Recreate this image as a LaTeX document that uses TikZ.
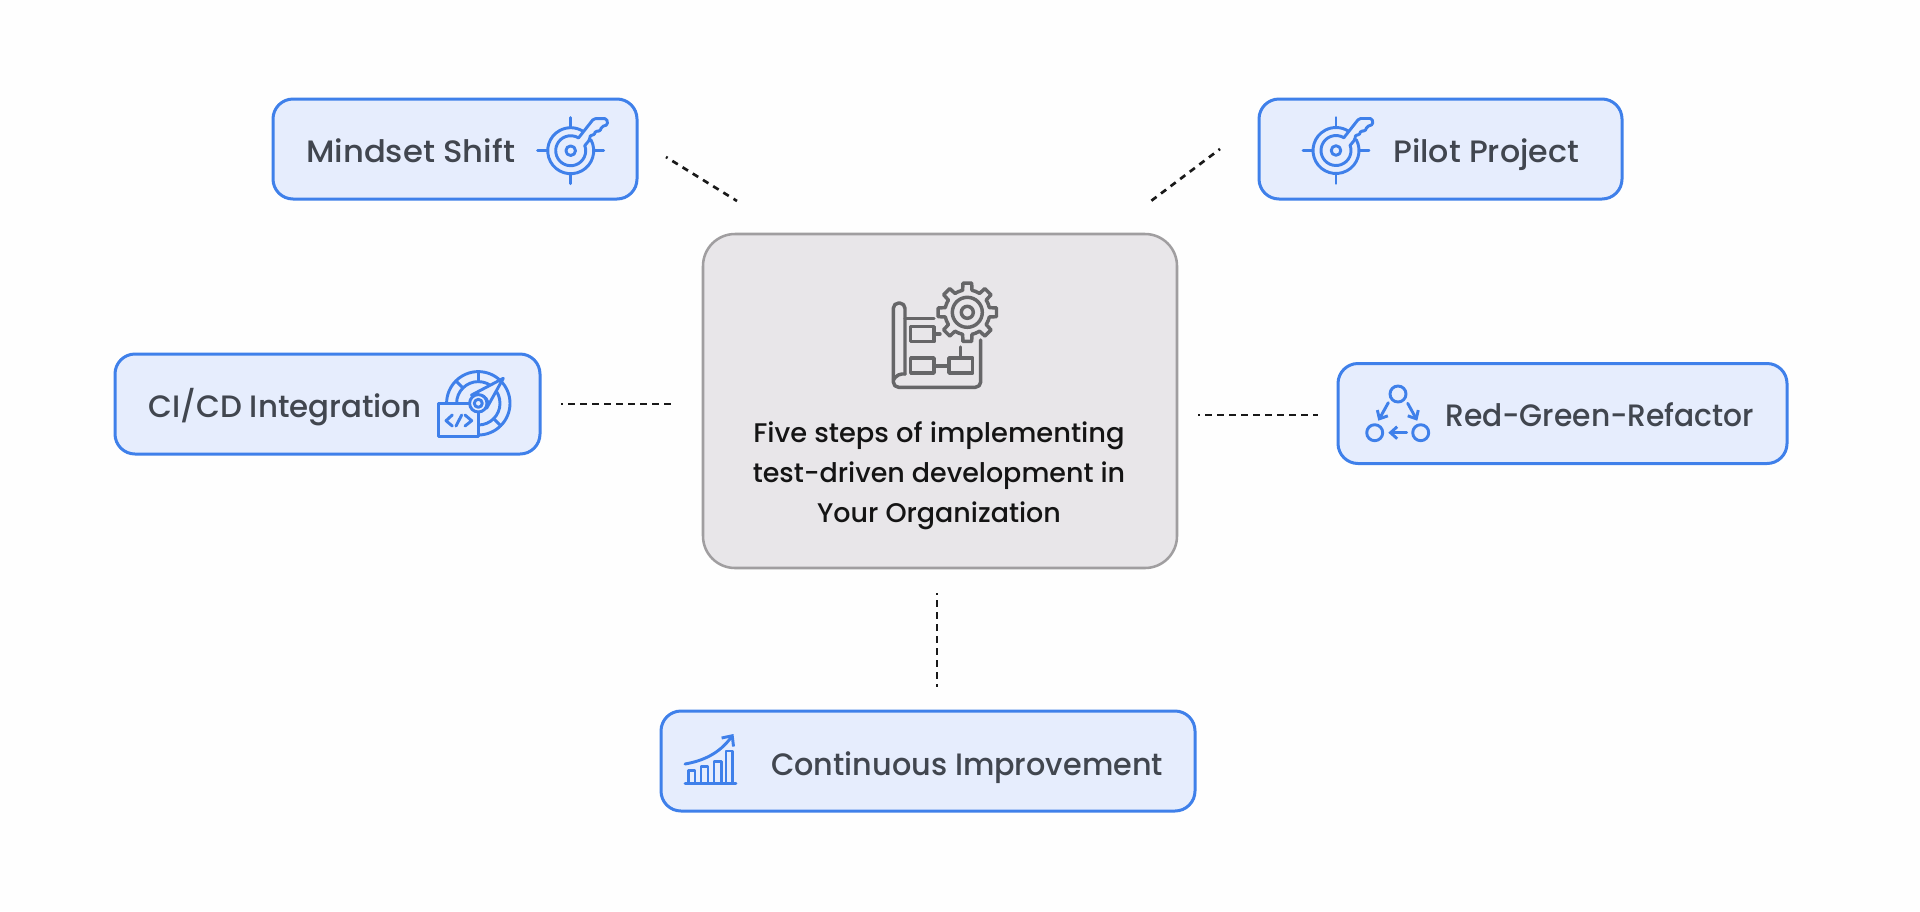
\documentclass[tikz,border=0pt]{standalone}
\usepackage{graphicx}
\usepackage{fontspec}
\setmainfont{Poppins}
\newfontfamily\medfont{Poppins Medium}
\usetikzlibrary{arrows.meta}
\definecolor{boxfill}{HTML}{E6EDFD}
\definecolor{boxline}{HTML}{3F80EA}
\definecolor{midfill}{HTML}{E8E6E9}
\definecolor{midline}{HTML}{A09EA0}
\definecolor{labelcol}{HTML}{41464F}
\definecolor{gearcol}{HTML}{666668}
\tikzset{
  stepbox/.style={draw=boxline,fill=boxfill,line width=2.25pt,rounded corners=15pt,inner sep=0pt,outer sep=0pt},
  midbox/.style={draw=midline,fill=midfill,line width=1.9pt,rounded corners=24pt,inner sep=0pt,outer sep=0pt},
  steplabel/.style={anchor=base west,inner sep=0pt,text=labelcol,font=\medfont\fontsize{23.2pt}{28pt}\selectfont},
  midlabel/.style={anchor=base,inner sep=0pt,text=black!92,font=\medfont\fontsize{20.2pt}{28pt}\selectfont},
  dotline/.style={line width=2pt,black!90,dash pattern=on 4.8pt off 4.2pt,dash phase=3.4pt},
  blueicon/.style={draw=boxline,line width=2.2pt,line cap=round,line join=round},
  grayicon/.style={draw=gearcol,line width=2.6pt,line cap=round,line join=round},
}
\newcommand{\keyicon}[2]{%
  \begin{scope}[shift={(#1,#2)},blueicon]
    \draw (-28:23) arc (-28:302:23);
    \draw (-20:15) arc (-20:302:15);
    \draw (0,0) circle (4.8);
    \draw (0,-24) -- (0,-33);
    \draw (0,24) -- (0,33);
    \draw (-24,0) -- (-33,0);
    \draw (24,0) -- (33,0);
    \draw[rounded corners=1.2pt] (8,-13) -- (23,-32) -- (36,-32) -- (37,-26) -- (31,-24) -- (29,-19) -- (25,-20) -- (23,-15) -- (19.5,-16) -- (19,-11) -- (14,-5);
  \end{scope}}
\begin{document}
\begin{tikzpicture}[x=0.75pt,y=-0.75pt]
\useasboundingbox (0,0) rectangle (1920,911);
\fill[white!99.5!black] (0,0) rectangle (1920,911);

% connectors
\coordinate (a1) at (666,157); \coordinate (a2) at (737,201);
\coordinate (b1) at (1220,149); \coordinate (b2) at (1151,201);
\coordinate (c1) at (561,404); \coordinate (c2) at (673,404);
\coordinate (d1) at (1198,415); \coordinate (d2) at (1318,415);
\coordinate (e1) at (937,593); \coordinate (e2) at (937,687);
\draw[dotline] (a1) -- (a2);
\draw[dotline] (b1) -- (b2);
\draw[dotline] (c1) -- (c2);
\draw[dotline] (d1) -- (d2);
\draw[dotline] (e1) -- (e2);

% boxes
\node[stepbox,minimum width=364*0.75pt,minimum height=100*0.75pt] (mindset) at (455,149) {};
\node[stepbox,minimum width=363*0.75pt,minimum height=100*0.75pt] (pilot) at (1440.5,149) {};
\node[stepbox,minimum width=425*0.75pt,minimum height=100*0.75pt] (cicd) at (327.5,404) {};
\node[stepbox,minimum width=449*0.75pt,minimum height=100*0.75pt] (rgr) at (1562.5,413.5) {};
\node[stepbox,minimum width=534*0.75pt,minimum height=100*0.75pt] (cont) at (928,761) {};
\node[midbox,minimum width=474*0.75pt,minimum height=334*0.75pt] (mid) at (940,401) {};

% labels
\node[steplabel] (tmindset) at (306,162) {\scalebox{1.042}[1]{Mindset Shift}};
\node[steplabel] (tpilot) at (1393,162) {\scalebox{1.024}[1]{Pilot Project}};
\node[steplabel] (tcicd) at (148,417) {\scalebox{0.998}[1]{CI/CD Integration}};
\node[steplabel] (trgr) at (1445,426) {\scalebox{0.961}[1]{Red-Green-Refactor}};
\node[steplabel] (tcont) at (771,775) {\scalebox{0.978}[1]{Continuous Improvement}};
\node[midlabel] (tm1) at (939,442) {\scalebox{1.015}[1]{Five steps of implementing}};
\node[midlabel] (tm2) at (939,482) {test-driven development in};
\node[midlabel] (tm3) at (939,522) {Your Organization};

% key icons
\keyicon{570.7}{150.7}
\keyicon{1336}{150.5}

% CI/CD icon
\begin{scope}[blueicon]
  \draw (478.3,403.3) ++(-180:31.7) arc (-180:90:31.7);
  \draw (478.3,403.3) ++(-180:21.7) arc (-180:90:21.7);
  \foreach \a in {-135,-90,45} {\draw (478.3,403.3) ++(\a:21.7) -- ++(\a:10);}
  \draw[fill=boxfill] (438.3,403.3) rectangle (478.3,436.7);
  \draw[fill=boxfill] (471.6,395) -- (503.3,378.3) -- (486.6,408.3) arc (31:-129:8.7) -- cycle;
  \draw[fill=boxfill] (478.3,403.3) circle (8.7);
  \draw (478.3,403.3) circle (4);
  \draw (452.3,415) -- (446,420.7) -- (452.3,426);
  \draw (461.7,415) -- (456,426);
  \draw (465,415) -- (471.7,420.7) -- (465,426);
\end{scope}

% red-green-refactor icon
\begin{scope}[blueicon]
  \draw (1398,394) circle (8);
  \draw (1374.7,432.7) circle (8);
  \draw (1420.7,432.7) circle (8);
  \draw[-{Straight Barb[length=5pt,width=9pt]}] (1388.3,402.7) -- (1378.3,420.7);
  \draw[-{Straight Barb[length=5pt,width=9pt]}] (1407.7,403.3) -- (1417.3,420.7);
  \draw[-{Straight Barb[length=5pt,width=9pt]}] (1406.7,432.7) -- (1388.3,432.7);
\end{scope}

% growth icon
\begin{scope}[blueicon]
  \draw (685,783.3) -- (736,783.3);
  \draw (688.5,783.3) -- (688.5,770.5) -- (695,770.5) -- (695,783.3);
  \draw (701,783.3) -- (701,766.5) -- (708,766.5) -- (708,783.3);
  \draw (714,783.3) -- (714,761.5) -- (721.5,761.5) -- (721.5,783.3);
  \draw (726,783.3) -- (726,751) -- (732.7,751) -- (732.7,783.3);
  \draw[-{Straight Barb[length=6pt,width=11pt]}] (685,764) .. controls (708,760) and (722,750) .. (733.5,734);
\end{scope}

% gear icon
\begin{scope}[grayicon]
  \draw[rounded corners=4pt] (905,374) -- (905,303) -- (893.3,303) -- (893.3,387.3) -- (980.7,387.3) -- (980.7,340);
  \draw[rounded corners=3pt] (905,374) -- (898,374) -- (893.3,380);
  \draw (905,318.3) -- (934,318.3);
  \draw (910.7,326.7) rectangle (934,341.7);
  \draw (934,334) -- (940,334);
  \draw (910.7,358) rectangle (934,373);
  \draw (949,358) rectangle (972.7,373);
  \draw (934,366) -- (949,366);
  \draw (960.7,347) -- (960.7,358);
  \begin{scope}[shift={(967.3,312.3)}]
    \foreach \a in {0,45,...,315} {
      \draw (\a-22.5:22.5) -- (\a-12:22.5) -- (\a-8.5:29.5) -- (\a+8.5:29.5) -- (\a+12:22.5) -- (\a+22.5:22.5);
    }
    \draw (0,0) circle (15);
    \draw (0,0) circle (6);
  \end{scope}
\end{scope}
\end{tikzpicture}
\end{document}
